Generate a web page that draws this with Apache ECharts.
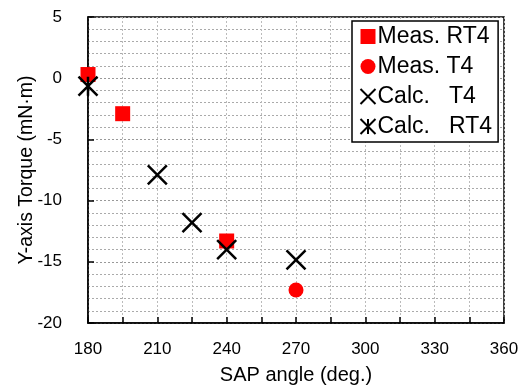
<!DOCTYPE html>
<html lang="en">
<head>
    <meta charset="UTF-8">
    <title>Y-axis Torque</title>
    <script src="https://cdn.jsdelivr.net/npm/echarts@6.0.0/dist/echarts.min.js"></script>
</head>
<body style="margin:0">
    <style>
        #main {
            width: 523px;
            height: 385px;
        }
    </style>
    <div id="main"></div>
    <script type="text/javascript">
        const measRT4 = [[180, 0.3], [195, -2.9], [240, -13.3]];
        const measT4 = [[270, -17.3]];
        const calcT4 = [[210, -7.9], [225, -11.8], [240, -14.0], [270, -14.85]];
        const calcRT4 = [[180, -0.65]];
        const legendNames = ['Meas. RT4', 'Meas. T4', 'Calc.   T4', 'Calc.   RT4'];

        const narrow = '"Liberation Sans Narrow", "Arial Narrow", "Liberation Sans", Arial, sans-serif';
        const sans = '"Liberation Sans", Arial, sans-serif';

        const crossPath = 'path://M0,0L20,20M20,0L0,20';
        const starPath = 'path://M0,0L20,20M20,0L0,20M10,0L10,20';

        let option = {
          animation: false,
          grid: {
            left: 88,
            right: 19,
            top: 17,
            bottom: 62,
            outerBoundsMode: 'none',
            containLabel: false,
            show: true,
            borderColor: '#000',
            borderWidth: 1.5,
          },
          legend: {
            orient: 'vertical',
            left: 352,
            top: 21,
            padding: [4, 6, 4, 6],
            itemGap: 7,
            itemWidth: 15,
            itemHeight: 15,
            backgroundColor: '#fff',
            borderColor: '#000',
            borderWidth: 1.5,
            borderRadius: 0,
            textStyle: { fontFamily: sans, fontSize: 23, color: '#000', padding: [0, 0, 0, -3] },
            data: legendNames,
          },
          xAxis: {
            type: 'value',
            min: 180,
            max: 360,
            interval: 15,
            name: 'SAP angle (deg.)',
            nameLocation: 'middle',
            nameGap: 42,
            nameMoveOverlap: false,
            nameTextStyle: { fontFamily: sans, fontSize: 20, color: '#000' },
            axisLine: { onZero: false, lineStyle: { color: '#000', width: 1.5 } },
            axisTick: { inside: true, length: 6, lineStyle: { color: '#000', width: 1.5 } },
            axisLabel: {
              margin: 18,
              fontFamily: narrow,
              fontSize: 17,
              color: '#000',
              formatter: v => ((v - 180) % 30 === 0 ? String(v) : ''),
            },
            splitLine: { lineStyle: { color: '#bbb', type: [2, 2], width: 1 } },
          },
          yAxis: {
            type: 'value',
            min: -20,
            max: 5,
            interval: 5,
            name: 'Y-axis Torque (mN·m)',
            nameLocation: 'middle',
            nameGap: 51,
            nameMoveOverlap: false,
            nameTextStyle: { fontFamily: sans, fontSize: 19.5, color: '#000' },
            axisLine: { lineStyle: { color: '#000', width: 1.5 } },
            axisTick: { inside: true, length: 6, lineStyle: { color: '#000', width: 1.5 } },
            axisLabel: { margin: 26, fontFamily: narrow, fontSize: 17, color: '#000' },
            splitLine: { lineStyle: { color: '#999', type: [2, 2], width: 1 } },
            minorTick: { show: false, splitNumber: 5 },
            minorSplitLine: { show: true, lineStyle: { color: '#aaa', type: [2, 2], width: 1 } },
          },
          series: [
            {
              name: legendNames[0],
              type: 'scatter',
              symbol: 'rect',
              symbolSize: 15,
              itemStyle: { color: '#ff0000', opacity: 1 },
              data: measRT4,
              z: 2,
            },
            {
              name: legendNames[1],
              type: 'scatter',
              symbol: 'circle',
              symbolSize: 15,
              itemStyle: { color: '#ff0000', opacity: 1 },
              data: measT4,
              z: 2,
            },
            {
              name: legendNames[2],
              type: 'scatter',
              symbol: crossPath,
              symbolSize: 19,
              itemStyle: { color: 'none', borderColor: '#000', borderWidth: 2.5, opacity: 1 },
              data: calcT4,
              z: 3,
            },
            {
              name: legendNames[3],
              type: 'scatter',
              symbol: starPath,
              symbolSize: 19,
              itemStyle: { color: 'none', borderColor: '#000', borderWidth: 2.5, opacity: 1 },
              data: calcRT4,
              z: 3,
            },
          ],
        };
        const myChart = echarts.init(document.getElementById('main'));
        myChart.setOption(option);
    </script>
</body>
</html>
